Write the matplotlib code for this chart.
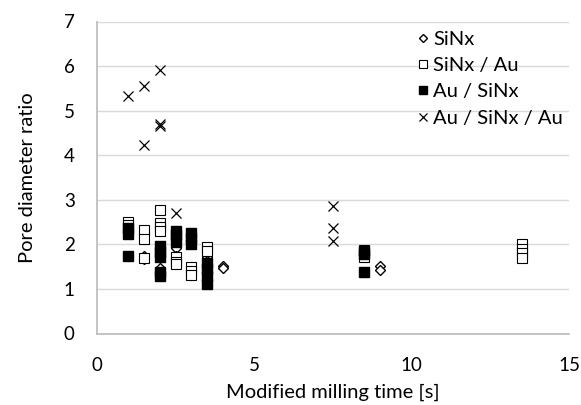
import matplotlib
matplotlib.use("Agg")
import matplotlib.pyplot as plt

plt.rcParams['font.family'] = ['Lato', 'DejaVu Sans']

# data
sinx_x = [1.5, 1.5, 2, 2.5, 2.5, 3.5, 3.5, 4, 4, 9, 9]
sinx_y = [1.75, 1.68, 1.48, 1.92, 1.74, 1.71, 1.63, 1.52, 1.48, 1.52, 1.43]

sinx_au_x = [1, 1, 1.5, 1.5, 1.5, 2, 2, 2, 2, 2.5, 2.5, 2.5, 3, 3, 3,
             3.5, 3.5, 8.5, 8.5, 13.5, 13.5, 13.5, 13.5]
sinx_au_y = [2.5, 2.43, 2.32, 2.12, 1.7, 2.77, 2.49, 2.38, 2.3, 1.71, 1.6, 1.55,
             1.49, 1.4, 1.32, 1.94, 1.86, 1.88, 1.72, 2.0, 1.9, 1.8, 1.7]

au_sinx_x = [1, 1, 1, 2, 2, 2, 2, 2, 2.5, 2.5, 2.5, 3, 3, 3,
             3.5, 3.5, 3.5, 3.5, 8.5, 8.5, 8.5]
au_sinx_y = [2.36, 2.23, 1.73, 1.97, 1.82, 1.72, 1.38, 1.3, 2.3, 2.2, 2.05, 2.25, 2.15, 2.0,
             1.58, 1.45, 1.3, 1.12, 1.86, 1.78, 1.39]

au_sinx_au_x = [1, 1.5, 1.5, 2, 2, 2, 2.5, 7.5, 7.5, 7.5]
au_sinx_au_y = [5.32, 5.56, 4.22, 5.92, 4.71, 4.66, 2.71, 2.86, 2.36, 2.07]

W, H = 581, 405
fig = plt.figure(figsize=(W / 100, H / 100), dpi=100)
ax = fig.add_axes([97/W, 1-333.5/H, 472/W, 312/H])

ax.plot(sinx_x, sinx_y, 'D', ms=5.5, mfc='white', mec='black', mew=1.0, ls='none', label='SiNx')
ax.plot(sinx_au_x, sinx_au_y, 's', ms=7, mfc='white', mec='black', mew=0.8, ls='none', label='SiNx / Au')
ax.plot(au_sinx_x, au_sinx_y, 's', ms=7, mfc='black', mec='black', ls='none', label='Au / SiNx')
ax.plot(au_sinx_au_x, au_sinx_au_y, 'x', ms=7, mec='black', mew=0.9, ls='none', label='Au / SiNx / Au')

ax.set_xlim(0, 15)
ax.set_ylim(0, 7)
ax.set_xticks([0, 5, 10, 15])
ax.set_yticks(range(8))
ax.grid(axis='y', color='#d9d9d9', lw=1)
ax.set_axisbelow(True)
for s in ['top', 'right']:
    ax.spines[s].set_visible(False)
ax.spines['left'].set_color('#bfbfbf')
ax.spines['bottom'].set_color('#bfbfbf')
ax.spines['left'].set_linewidth(1.3)
ax.spines['bottom'].set_linewidth(1.3)
ax.tick_params(length=0, labelsize=13.5)
ax.tick_params(axis='x', pad=17)
ax.tick_params(axis='y', pad=16)

ax.set_xlabel('Modified milling time [s]', fontsize=14.5, labelpad=7)
ax.set_ylabel('Pore diameter ratio', fontsize=14.5, labelpad=20)

ax.legend(loc='upper left', bbox_to_anchor=(417/W, 1-31/H), bbox_transform=fig.transFigure,
          frameon=False, fontsize=14.5, borderpad=0, borderaxespad=0,
          handlelength=0.6, handletextpad=0.2, labelspacing=0.45, markerscale=0.8)

fig.savefig('out.png', dpi=100)
